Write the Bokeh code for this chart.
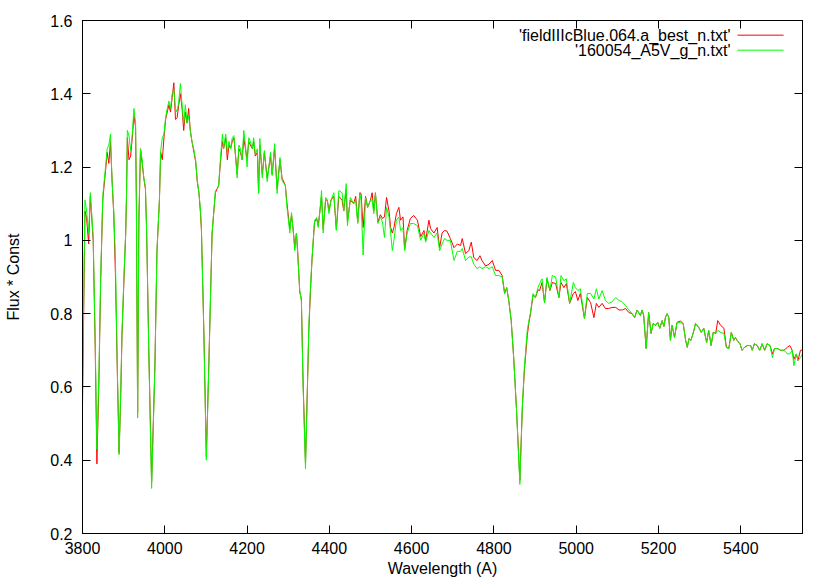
from bokeh.plotting import figure
from bokeh.models import Range1d, FixedTicker, LinearAxis, Label, ColumnDataSource
from bokeh.embed import file_html
from bokeh.resources import INLINE

# ---------------- data ----------------
wavelength = [
    3800, 3806, 3810, 3815, 3819, 3826, 3831, 3835, 3840, 3844, 3849, 3850, 3856, 3860, 3864, 3868,
    3872, 3876, 3880, 3885, 3889, 3893, 3896, 3901, 3905, 3907, 3909, 3913, 3917, 3921, 3925, 3929,
    3931, 3934, 3937, 3941, 3945, 3949, 3953, 3956, 3961, 3968, 3976, 3981, 3987, 3990, 3994, 3998,
    4002, 4006, 4010, 4014, 4018, 4022, 4026, 4030, 4034, 4038, 4042, 4046, 4050, 4054, 4058, 4062,
    4066, 4071, 4075, 4079, 4083, 4087, 4089, 4095, 4101, 4107, 4115, 4123, 4127, 4131, 4135, 4140,
    4143, 4148, 4152, 4156, 4160, 4164, 4168, 4172, 4176, 4180, 4184, 4188, 4192, 4196, 4200, 4204,
    4208, 4213, 4216, 4220, 4225, 4228, 4231, 4237, 4242, 4249, 4257, 4261, 4267, 4273, 4280, 4285,
    4293, 4297, 4304, 4308, 4312, 4316, 4320, 4323, 4328, 4332, 4336, 4342, 4346, 4350, 4354, 4358,
    4364, 4369, 4373, 4377, 4381, 4385, 4391, 4395, 4399, 4404, 4411, 4417, 4423, 4431, 4435, 4441,
    4444, 4451, 4459, 4464, 4469, 4474, 4477, 4482, 4488, 4493, 4500, 4504, 4508, 4512, 4518, 4524,
    4529, 4534, 4539, 4545, 4549, 4553, 4557, 4563, 4569, 4573, 4579, 4583, 4589, 4597, 4605, 4614,
    4622, 4630, 4634, 4642, 4646, 4654, 4662, 4668, 4674, 4680, 4686, 4694, 4703, 4711, 4719, 4723,
    4731, 4739, 4745, 4751, 4759, 4766, 4771, 4780, 4788, 4796, 4804, 4812, 4820, 4826, 4831, 4836,
    4842, 4848, 4855, 4863, 4869, 4874, 4881, 4885, 4889, 4895, 4901, 4907, 4911, 4917, 4923, 4929,
    4936, 4942, 4950, 4958, 4963, 4970, 4976, 4984, 4993, 4998, 5004, 5010, 5020, 5027, 5035, 5043,
    5049, 5055, 5063, 5071, 5079, 5087, 5096, 5104, 5112, 5120, 5128, 5136, 5142, 5148, 5156, 5160,
    5164, 5170, 5176, 5182, 5187, 5193, 5198, 5203, 5209, 5213, 5217, 5221, 5225, 5229, 5233, 5239,
    5245, 5253, 5260, 5266, 5270, 5274, 5279, 5286, 5290, 5298, 5304, 5310, 5317, 5322, 5328, 5333,
    5339, 5344, 5351, 5359, 5365, 5371, 5377, 5383, 5387, 5391, 5398, 5403, 5409, 5416, 5424, 5428,
    5433, 5440, 5446, 5452, 5458, 5464, 5471, 5477, 5482, 5489, 5497, 5505, 5513, 5519, 5525, 5529,
    5535, 5539, 5545, 5550,
]

flux_field = [
    0.55, 1.08, 1.06, 0.99, 1.12, 1.00, 0.70, 0.39, 0.62, 0.88, 1.10, 1.12, 1.19, 1.24, 1.21, 1.27,
    1.16, 1.07, 0.91, 0.62, 0.42, 0.58, 0.74, 0.90, 1.02, 1.12, 1.28, 1.22, 1.23, 1.28, 1.34, 1.31,
    1.10, 0.53, 1.05, 1.25, 1.21, 1.17, 1.14, 1.02, 0.71, 0.34, 0.66, 0.97, 1.11, 1.24, 1.22, 1.28,
    1.33, 1.35, 1.37, 1.35, 1.39, 1.43, 1.33, 1.335, 1.37, 1.40, 1.36, 1.30, 1.35, 1.32, 1.36, 1.30,
    1.27, 1.24, 1.215, 1.16, 1.13, 1.07, 1.03, 0.75, 0.41, 0.66, 1.02, 1.13, 1.14, 1.15, 1.21, 1.27,
    1.25, 1.28, 1.22, 1.26, 1.25, 1.27, 1.28, 1.23, 1.18, 1.25, 1.24, 1.22, 1.28, 1.25, 1.22, 1.27,
    1.26, 1.25, 1.27, 1.23, 1.24, 1.13, 1.26, 1.18, 1.24, 1.17, 1.23, 1.18, 1.25, 1.14, 1.22, 1.17,
    1.15, 1.10, 1.03, 1.07, 1.03, 0.98, 1.02, 0.97, 0.86, 0.84, 0.62, 0.39, 0.57, 0.75, 0.86, 0.95,
    1.05, 1.06, 1.04, 1.08, 1.12, 1.03, 1.11, 1.11, 1.08, 1.11, 1.12, 1.03, 1.12, 1.11, 1.08, 1.14,
    1.05, 1.11, 1.10, 1.12, 1.05, 1.13, 1.128, 1.035, 1.12, 1.09, 1.11, 1.13, 1.08, 1.13, 1.05, 1.07,
    1.06, 1.064, 1.117, 1.08, 1.035, 1.02, 1.035, 1.073, 1.09, 1.055, 1.064, 0.975, 1.027, 1.06, 1.068, 1.055,
    1.01, 1.027, 1.0, 1.055, 1.032, 1.02, 1.035, 0.98, 1.02, 1.027, 1.025, 1.005, 0.98, 0.99, 0.986, 1.005,
    0.964, 0.972, 0.995, 0.953, 0.945, 0.958, 0.945, 0.93, 0.935, 0.945, 0.918, 0.918, 0.904, 0.855, 0.871, 0.836,
    0.781, 0.68, 0.536, 0.345, 0.544, 0.645, 0.74, 0.775, 0.80, 0.85, 0.844, 0.865, 0.863, 0.885, 0.83, 0.895,
    0.863, 0.885, 0.882, 0.844, 0.885, 0.871, 0.882, 0.828, 0.855, 0.86, 0.836, 0.855, 0.787, 0.844, 0.83, 0.789,
    0.828, 0.817, 0.828, 0.814, 0.814, 0.817, 0.817, 0.81, 0.81, 0.814, 0.803, 0.80, 0.789, 0.81, 0.795, 0.81,
    0.795, 0.705, 0.803, 0.746, 0.773, 0.768, 0.776, 0.76, 0.781, 0.765, 0.79, 0.80, 0.79, 0.727, 0.768, 0.735,
    0.776, 0.78, 0.773, 0.727, 0.708, 0.732, 0.727, 0.754, 0.773, 0.762, 0.749, 0.76, 0.721, 0.754, 0.713, 0.749,
    0.746, 0.781, 0.768, 0.76, 0.708, 0.705, 0.749, 0.727, 0.735, 0.727, 0.718, 0.70, 0.708, 0.713, 0.713, 0.70,
    0.718, 0.713, 0.70, 0.718, 0.70, 0.718, 0.713, 0.69, 0.705, 0.705, 0.70, 0.70, 0.708, 0.713, 0.70, 0.675,
    0.69, 0.672, 0.70, 0.70,
]

flux_a5v = [
    0.58, 1.11, 1.08, 1.02, 1.13, 1.01, 0.72, 0.43, 0.64, 0.89, 1.11, 1.13, 1.20, 1.25, 1.26, 1.29,
    1.16, 1.08, 0.95, 0.63, 0.415, 0.59, 0.75, 0.91, 1.02, 1.13, 1.30, 1.285, 1.245, 1.29, 1.36, 1.32,
    1.10, 0.515, 1.06, 1.25, 1.22, 1.17, 1.145, 1.02, 0.70, 0.323, 0.653, 0.972, 1.11, 1.245, 1.28, 1.29,
    1.335, 1.36, 1.38, 1.36, 1.40, 1.41, 1.36, 1.35, 1.38, 1.428, 1.37, 1.32, 1.37, 1.32, 1.34, 1.30,
    1.27, 1.245, 1.218, 1.163, 1.13, 1.08, 1.035, 0.746, 0.40, 0.653, 1.02, 1.136, 1.14, 1.15, 1.218, 1.29,
    1.25, 1.29, 1.24, 1.27, 1.25, 1.28, 1.286, 1.23, 1.17, 1.26, 1.25, 1.22, 1.30, 1.26, 1.20, 1.28,
    1.27, 1.25, 1.28, 1.235, 1.25, 1.128, 1.278, 1.17, 1.245, 1.16, 1.24, 1.177, 1.264, 1.128, 1.226, 1.163,
    1.15, 1.09, 1.02, 1.076, 1.027, 0.972, 1.02, 0.964, 0.863, 0.836, 0.61, 0.377, 0.563, 0.762, 0.871, 0.953,
    1.054, 1.062, 1.035, 1.08, 1.136, 1.02, 1.117, 1.11, 1.073, 1.11, 1.13, 1.027, 1.136, 1.13, 1.08, 1.155,
    1.04, 1.117, 1.10, 1.11, 1.046, 1.128, 1.11, 0.96, 1.117, 1.09, 1.11, 1.11, 1.073, 1.128, 1.046, 1.064,
    1.05, 1.008, 1.09, 1.064, 1.02, 0.972, 1.0, 1.055, 1.064, 1.027, 1.035, 0.972, 1.02, 1.046, 1.046, 1.04,
    1.0, 1.02, 0.995, 1.027, 1.02, 1.008, 1.02, 0.972, 0.99, 1.005, 1.0, 1.0, 0.945, 0.97, 0.97, 0.978,
    0.945, 0.955, 0.955, 0.935, 0.923, 0.928, 0.923, 0.928, 0.923, 0.928, 0.904, 0.904, 0.90, 0.855, 0.871, 0.836,
    0.781, 0.68, 0.536, 0.334, 0.544, 0.653, 0.754, 0.781, 0.803, 0.855, 0.844, 0.871, 0.882, 0.895, 0.83, 0.899,
    0.863, 0.904, 0.90, 0.844, 0.904, 0.89, 0.895, 0.828, 0.885, 0.871, 0.863, 0.868, 0.787, 0.855, 0.855, 0.84,
    0.868, 0.84, 0.863, 0.836, 0.828, 0.832, 0.844, 0.836, 0.832, 0.822, 0.81, 0.80, 0.789, 0.81, 0.795, 0.81,
    0.795, 0.705, 0.803, 0.746, 0.773, 0.768, 0.776, 0.76, 0.781, 0.765, 0.79, 0.80, 0.79, 0.727, 0.768, 0.735,
    0.776, 0.776, 0.773, 0.727, 0.708, 0.732, 0.727, 0.754, 0.773, 0.762, 0.749, 0.76, 0.721, 0.754, 0.713, 0.749,
    0.746, 0.754, 0.749, 0.746, 0.708, 0.705, 0.749, 0.727, 0.735, 0.727, 0.718, 0.70, 0.708, 0.713, 0.713, 0.70,
    0.718, 0.713, 0.70, 0.718, 0.70, 0.718, 0.713, 0.68, 0.705, 0.705, 0.70, 0.70, 0.69, 0.69, 0.70, 0.658,
    0.69, 0.672, 0.68, 0.69,
]

series_names = ["'fieldIIIcBlue.064.a_best_n.txt'", "'160054_A5V_g_n.txt'"]
series_colors = ["#ff0000", "#00ff00"]

x_ticks = [3800, 4000, 4200, 4400, 4600, 4800, 5000, 5200, 5400]
y_ticks = [0.2, 0.4, 0.6, 0.8, 1.0, 1.2, 1.4, 1.6]
y_tick_labels = ["0.2", "0.4", "0.6", "0.8", "1", "1.2", "1.4", "1.6"]

x_title = "Wavelength (A)"
y_title = "Flux * Const"

# legend placement (data coordinates, top right corner inside the frame)
legend_text_x = 5375
legend_sample_x = (5392, 5504)
legend_rows_y = [1.560, 1.519]

FONT = "Liberation Sans"
FS = "16px"

# ---------------- figure ----------------
p = figure(width=830, height=581, output_backend="svg", toolbar_location=None,
           x_range=Range1d(3800, 5550), y_range=Range1d(0.2, 1.6),
           min_border_left=82, min_border_right=28, min_border_top=20, min_border_bottom=48)
p.grid.visible = False
p.outline_line_color = "black"
p.outline_line_width = 1
p.background_fill_color = "white"
p.border_fill_color = "white"


def style_axis(ax, labels=True):
    ax.axis_line_color = "black"
    ax.major_tick_line_color = "black"
    ax.major_tick_in = 8
    ax.major_tick_out = 0
    ax.minor_tick_in = 0
    ax.minor_tick_out = 0
    ax.minor_tick_line_color = None
    if labels:
        ax.major_label_text_font = FONT
        ax.major_label_text_font_size = FS
        ax.major_label_text_color = "black"
        ax.axis_label_text_font = FONT
        ax.axis_label_text_font_size = FS
        ax.axis_label_text_font_style = "normal"
        ax.axis_label_text_color = "black"
    else:
        ax.major_label_text_font_size = "0px"
        ax.major_label_text_color = None
        ax.major_label_standoff = 0


xa = p.xaxis[0]
xa.ticker = FixedTicker(ticks=x_ticks)
style_axis(xa)
xa.axis_label = x_title
xa.major_label_standoff = 8
xa.axis_label_standoff = 3

ya = p.yaxis[0]
ya.ticker = FixedTicker(ticks=y_ticks)
style_axis(ya)
ya.axis_label = y_title
ya.major_label_standoff = 10
ya.axis_label_standoff = 25
ya.major_label_overrides = {v: s for v, s in zip(y_ticks, y_tick_labels)}

top = LinearAxis(ticker=FixedTicker(ticks=x_ticks))
style_axis(top, labels=False)
p.add_layout(top, "above")

right = LinearAxis(ticker=FixedTicker(ticks=y_ticks))
style_axis(right, labels=False)
p.add_layout(right, "right")

# ---------------- spectra ----------------
p.line(wavelength, flux_field, line_color=series_colors[0], line_width=1)
p.line(wavelength, flux_a5v, line_color=series_colors[1], line_width=1)

# ---------------- gnuplot-style key (text, then sample line) ----------------
for name, yy in zip(series_names, legend_rows_y):
    p.add_layout(Label(x=legend_text_x, y=yy, text=name, text_align="right",
                       text_baseline="middle", text_font=FONT, text_font_size=FS,
                       text_color="black"))
key_src = ColumnDataSource(dict(
    x0=[legend_sample_x[0]] * len(series_names),
    x1=[legend_sample_x[1]] * len(series_names),
    y=legend_rows_y,
    c=series_colors,
))
p.segment(x0="x0", y0="y", x1="x1", y1="y", line_color="c", line_width=1, source=key_src)

open("out.html", "w").write(file_html(p, INLINE))
